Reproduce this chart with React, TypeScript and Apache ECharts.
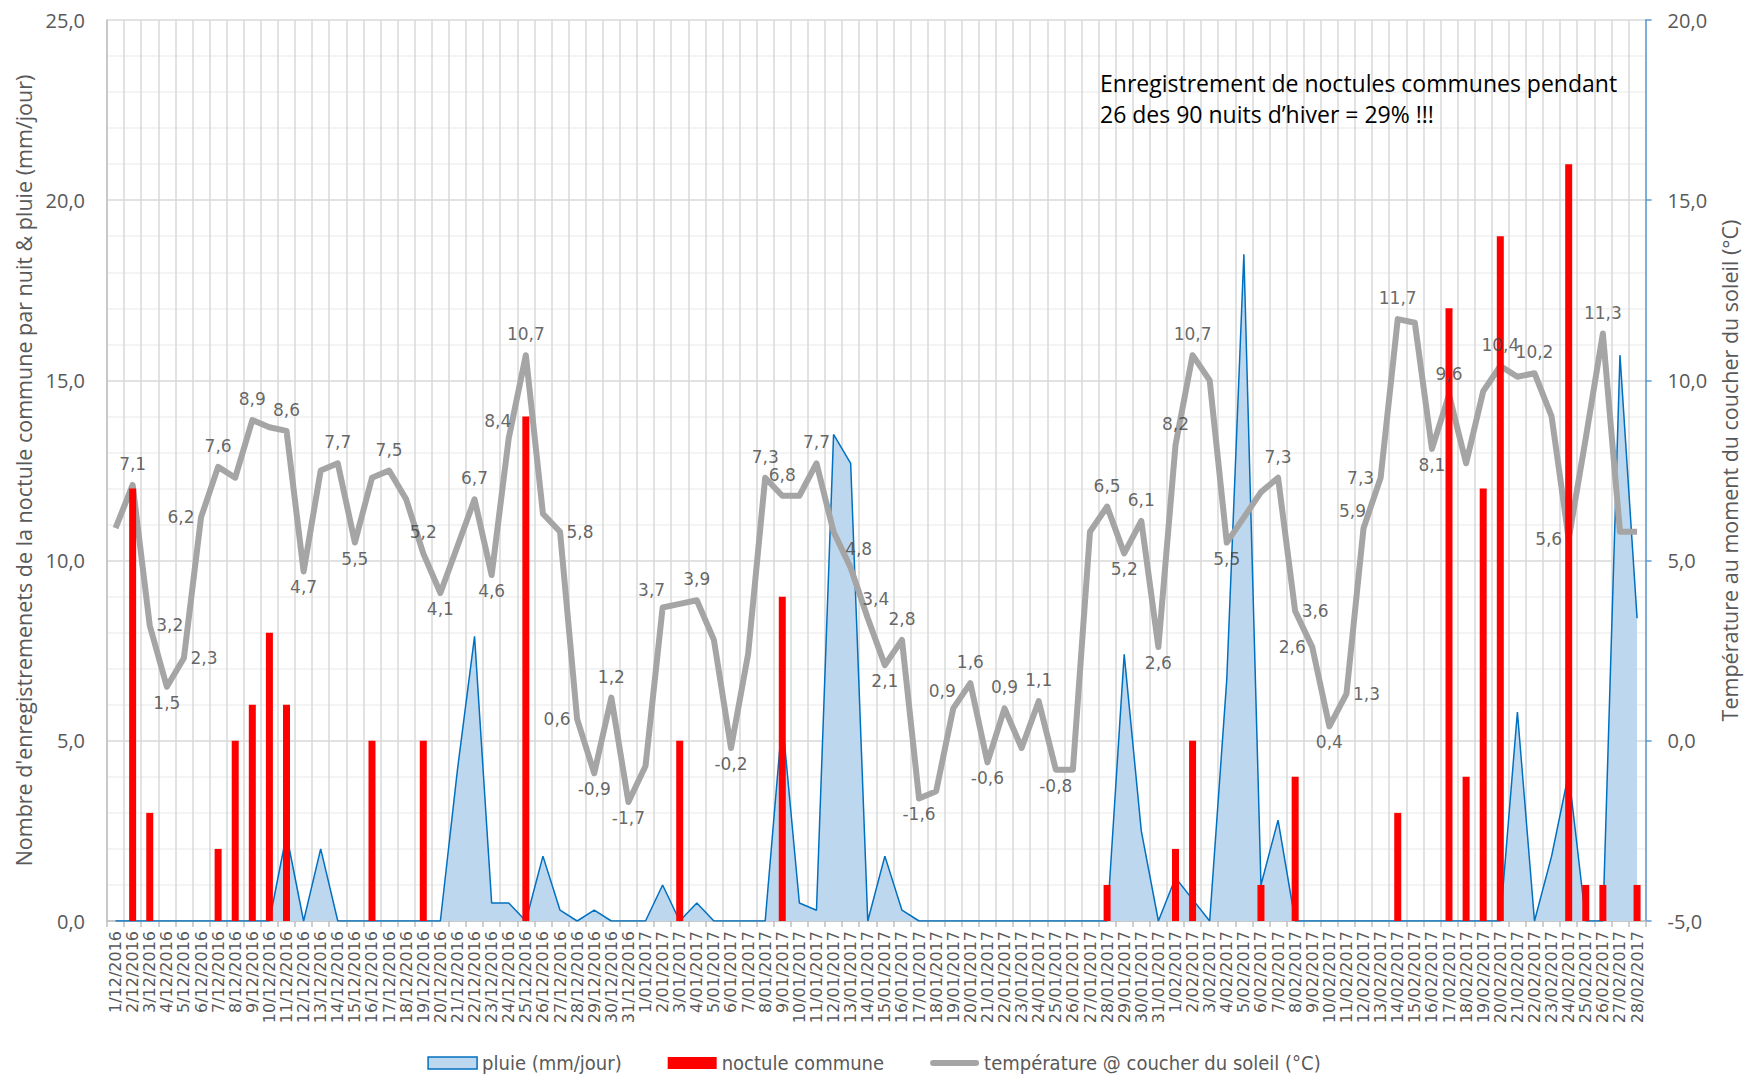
import React, { useEffect, useRef } from "react";
import * as echarts from "echarts";

const categories = [
  "1/12/2016", "2/12/2016", "3/12/2016", "4/12/2016", "5/12/2016", "6/12/2016", "7/12/2016", "8/12/2016", "9/12/2016", "10/12/2016",
  "11/12/2016", "12/12/2016", "13/12/2016", "14/12/2016", "15/12/2016", "16/12/2016", "17/12/2016", "18/12/2016", "19/12/2016", "20/12/2016",
  "21/12/2016", "22/12/2016", "23/12/2016", "24/12/2016", "25/12/2016", "26/12/2016", "27/12/2016", "28/12/2016", "29/12/2016", "30/12/2016",
  "31/12/2016",
  "1/01/2017", "2/01/2017", "3/01/2017", "4/01/2017", "5/01/2017", "6/01/2017", "7/01/2017", "8/01/2017", "9/01/2017", "10/01/2017",
  "11/01/2017", "12/01/2017", "13/01/2017", "14/01/2017", "15/01/2017", "16/01/2017", "17/01/2017", "18/01/2017", "19/01/2017", "20/01/2017",
  "21/01/2017", "22/01/2017", "23/01/2017", "24/01/2017", "25/01/2017", "26/01/2017", "27/01/2017", "28/01/2017", "29/01/2017", "30/01/2017",
  "31/01/2017",
  "1/02/2017", "2/02/2017", "3/02/2017", "4/02/2017", "5/02/2017", "6/02/2017", "7/02/2017", "8/02/2017", "9/02/2017", "10/02/2017",
  "11/02/2017", "12/02/2017", "13/02/2017", "14/02/2017", "15/02/2017", "16/02/2017", "17/02/2017", "18/02/2017", "19/02/2017", "20/02/2017",
  "21/02/2017", "22/02/2017", "23/02/2017", "24/02/2017", "25/02/2017", "26/02/2017", "27/02/2017", "28/02/2017",
];

// pluie (mm/jour)
const pluie = [
  0, 0, 0, 0, 0, 0, 0, 0, 0, 0,
  2.4, 0, 2.0, 0, 0, 0, 0, 0, 0, 0,
  4.2, 7.9, 0.5, 0.5, 0, 1.8, 0.3, 0, 0.3, 0,
  0,
  0, 1.0, 0, 0.5, 0, 0, 0, 0, 5.6, 0.5,
  0.3, 13.5, 12.7, 0, 1.8, 0.3, 0, 0, 0, 0,
  0, 0, 0, 0, 0, 0, 0, 0, 7.4, 2.5,
  0,
  1.2, 0.6, 0, 6.7, 18.5, 1.0, 2.8, 0, 0, 0,
  0, 0, 0, 0, 0, 0, 0, 0, 0, 0,
  5.8, 0, 1.8, 4.1, 0, 0, 15.7, 8.4,
];

// noctule commune (enregistrements par nuit)
const noctule = [
  0, 12, 3, 0, 0, 0, 2, 5, 6, 8,
  6, 0, 0, 0, 0, 5, 0, 0, 5, 0,
  0, 0, 0, 0, 14, 0, 0, 0, 0, 0,
  0,
  0, 0, 5, 0, 0, 0, 0, 0, 9, 0,
  0, 0, 0, 0, 0, 0, 0, 0, 0, 0,
  0, 0, 0, 0, 0, 0, 0, 1, 0, 0,
  0,
  2, 5, 0, 0, 0, 1, 0, 4, 0, 0,
  0, 0, 0, 3, 0, 0, 17, 4, 12, 19,
  0, 0, 0, 21, 1, 1, 0, 1,
];

// température @ coucher du soleil (°C)
const temperature = [
  5.9, 7.1, 3.2, 1.5, 2.3, 6.2, 7.6, 7.3, 8.9, 8.7,
  8.6, 4.7, 7.5, 7.7, 5.5, 7.3, 7.5, 6.7, 5.2, 4.1,
  5.4, 6.7, 4.6, 8.4, 10.7, 6.3, 5.8, 0.6, -0.9, 1.2,
  -1.7,
  -0.7, 3.7, 3.8, 3.9, 2.8, -0.2, 2.4, 7.3, 6.8, 6.8,
  7.7, 5.8, 4.8, 3.4, 2.1, 2.8, -1.6, -1.4, 0.9, 1.6,
  -0.6, 0.9, -0.2, 1.1, -0.8, -0.8, 5.8, 6.5, 5.2, 6.1,
  2.6,
  8.2, 10.7, 10.0, 5.5, 6.2, 6.9, 7.3, 3.6, 2.6, 0.4,
  1.3, 5.9, 7.3, 11.7, 11.6, 8.1, 9.6, 7.7, 9.7, 10.4,
  10.1, 10.2, 9.0, 5.6, 8.4, 11.3, 5.8, 5.8,
];

// data label placement for temperature points ("" = no label)
const tempLabelPos = [
  "", "t", "r", "b", "r", "l", "t", "", "t", "",
  "t", "b", "", "t", "b", "", "t", "", "t", "b",
  "", "t", "b", "tl", "t", "", "r", "l", "b", "t",
  "b",
  "", "tl", "", "t", "", "b", "", "t", "t", "",
  "t", "", "tr", "tr", "b", "t", "b", "", "tl", "t",
  "b", "t", "", "t", "b", "", "", "t", "b", "t",
  "b",
  "t", "t", "", "b", "", "", "t", "r", "l", "b",
  "r", "tl", "l", "t", "", "b", "t", "", "", "t",
  "", "t", "", "l", "", "t", "", "",
];

const legendNames = ["pluie (mm/jour)", "noctule commune", "température @ coucher du soleil (°C)"];
const leftAxisName = "Nombre d'enregistremenets de la noctule commune par nuit & pluie (mm/jour)";
const rightAxisName = "Température au moment du coucher du soleil (°C)";
const noteText = "Enregistrement de noctules communes pendant\n26 des 90 nuits d’hiver = 29% !!!";

export default function App() {
  const ref = useRef<HTMLDivElement>(null);
  useEffect(() => {
    document.body.style.margin = "0";
    const chart = echarts.init(ref.current!, null, { renderer: "svg" });
    const fmt = (v: number) => v.toFixed(1).replace(".", ",");
    const labelFor = (p: string) => {
      switch (p) {
        case "t": return { show: true, position: "top", distance: 12 };
        case "tl": return { show: true, position: "top", distance: 8, offset: [-11, 0] };
        case "tr": return { show: true, position: "top", distance: 10, offset: [8, 0] };
        case "b": return { show: true, position: "bottom", distance: 7 };
        case "l": return { show: true, position: "left", distance: 6 };
        case "r": return { show: true, position: "right", distance: 6 };
        default: return { show: false };
      }
    };
    const labelData = temperature.map((v, i) => ({ value: v, label: labelFor(tempLabelPos[i]) }));
    const axisLabelStyle = { fontFamily: "Open Sans", fontSize: 20, color: "#595959" };
    chart.setOption({
      animation: false,
      backgroundColor: "#ffffff",
      grid: { left: 107, right: 100, top: 20, bottom: 155, containLabel: false },
      legend: {
        top: 1047,
        left: "center",
        itemWidth: 49,
        itemHeight: 12,
        itemGap: 46,
        symbolKeepAspect: true,
        textStyle: { fontFamily: "DejaVu Sans Condensed", fontSize: 20, lineHeight: 22, color: "#595959" },
        data: [
          { name: legendNames[0], icon: "rect", itemStyle: { color: "#BDD7EE", borderColor: "#0070C0", borderWidth: 1.5 } },
          { name: legendNames[1], icon: "rect", itemStyle: { color: "#FF0000" } },
          { name: legendNames[2], icon: "path://M3,0 L46,0 A3,3 0 0 1 46,6 L3,6 A3,3 0 0 1 3,0 Z", itemStyle: { color: "#A5A5A5", borderWidth: 0 } },
        ],
      },
      xAxis: {
        type: "category",
        data: categories,
        boundaryGap: true,
        axisLine: { show: true, lineStyle: { color: "#BFBFBF", width: 1.5 } },
        axisTick: { show: true, interval: 0, length: 6, lineStyle: { color: "#BFBFBF", width: 1.5 } },
        axisLabel: {
          interval: 0,
          rotate: 90,
          margin: 10,
          fontFamily: "DejaVu Sans",
          fontSize: 16,
          color: "#595959",
        },
        splitLine: { show: true, interval: 0, lineStyle: { color: "#D9D9D9", width: 1.5 } },
      },
      yAxis: [
        {
          type: "value",
          min: 0,
          max: 25,
          interval: 5,
          name: leftAxisName,
          nameLocation: "middle",
          nameRotate: 90,
          nameGap: 70,
          nameTextStyle: { fontFamily: "Open Sans", fontSize: 21.5, color: "#595959" },
          axisLine: { show: true, lineStyle: { color: "#BFBFBF", width: 1.5 } },
          axisTick: { show: false },
          axisLabel: { ...axisLabelStyle, margin: 22, formatter: (v: number) => fmt(v) },
          splitLine: { show: true, lineStyle: { color: "#D9D9D9", width: 1.5 } },
          minorTick: { show: false, splitNumber: 5 },
          minorSplitLine: { show: true, lineStyle: { color: "#F0F0F0", width: 1.5 } },
        },
        {
          type: "value",
          min: -5,
          max: 20,
          interval: 5,
          position: "right",
          name: rightAxisName,
          nameLocation: "middle",
          nameRotate: 90,
          nameGap: 72,
          nameTextStyle: { fontFamily: "Open Sans", fontSize: 21.5, color: "#595959" },
          axisLine: { show: true, lineStyle: { color: "#5B9BD5", width: 1.5 } },
          axisTick: { show: true, length: 6, lineStyle: { color: "#5B9BD5", width: 1.5 } },
          axisLabel: { ...axisLabelStyle, margin: 22, formatter: (v: number) => fmt(v) },
          splitLine: { show: false },
        },
      ],
      series: [
        {
          name: legendNames[0],
          type: "line",
          yAxisIndex: 0,
          data: pluie,
          symbol: "none",
          z: 1,
          lineStyle: { color: "#0070C0", width: 1.5 },
          itemStyle: { color: "#BDD7EE" },
          areaStyle: { color: "#BDD7EE", opacity: 1 },
        },
        {
          name: legendNames[2],
          type: "line",
          yAxisIndex: 1,
          data: temperature,
          symbol: "none",
          z: 2,
          lineStyle: { color: "#A5A5A5", width: 6, join: "round", cap: "butt" },
          itemStyle: { color: "#A5A5A5" },
        },
        {
          name: legendNames[1],
          type: "bar",
          yAxisIndex: 0,
          data: noctule,
          barWidth: 7,
          z: 3,
          itemStyle: { color: "#FF0000" },
        },
        {
          name: "temp-labels",
          type: "scatter",
          yAxisIndex: 1,
          data: labelData,
          symbol: "circle",
          symbolSize: 1,
          silent: true,
          z: 4,
          itemStyle: { color: "rgba(0,0,0,0)" },
          label: {
            show: true,
            fontFamily: "DejaVu Sans",
            fontSize: 17,
            color: "#404040",
            formatter: (p: any) => fmt(p.value),
          },
        },
      ],
      graphic: [
        {
          type: "text",
          left: 1100,
          top: 67,
          z: 10,
          style: {
            text: noteText,
            fontFamily: "Open Sans",
            fontSize: 23,
            lineHeight: 31,
            fill: "#000000",
          },
        },
      ],
    });
    return () => chart.dispose();
  }, []);
  return <div ref={ref} style={{ width: 1748, height: 1076 }} />;
}
